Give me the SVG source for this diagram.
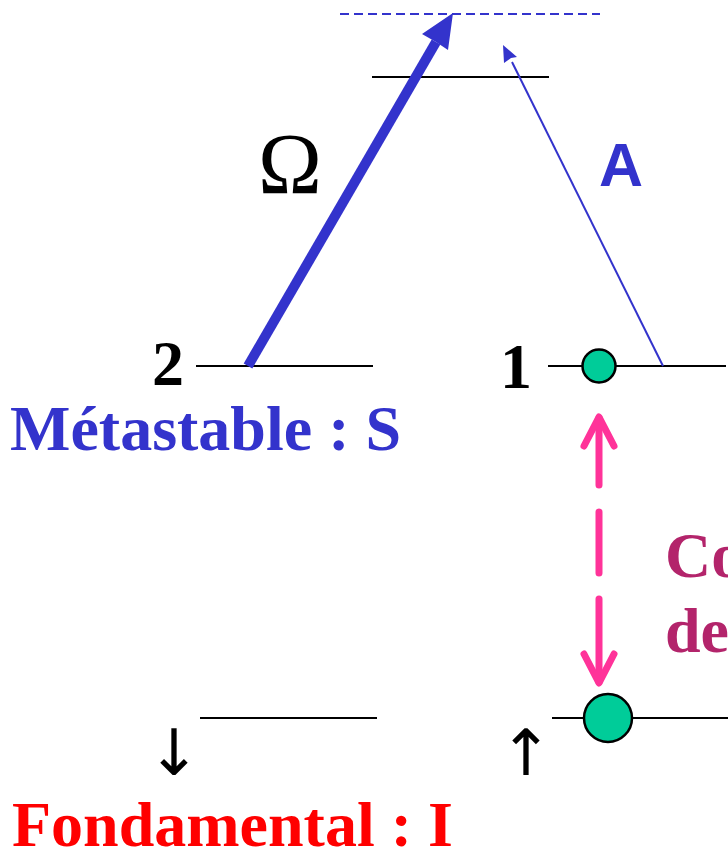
<svg xmlns="http://www.w3.org/2000/svg" width="728" height="854" viewBox="0 0 728 854">
<style>
.lvl{stroke:#000;stroke-width:2.2;fill:none}
.b{fill:#3333CC}
.lbl{font-family:"Liberation Serif",serif;font-weight:bold}
.atom{fill:#00CC99;stroke:#000;stroke-width:2.5}
.pink{stroke:#FF3399;stroke-width:7;fill:none;stroke-linecap:round;stroke-linejoin:round}
.spin{font-family:"DejaVu Sans",sans-serif;font-size:64px;text-anchor:middle}
</style>
<rect width="728" height="854" fill="#fff"/>
<g id="virtual-level"><line x1="340" y1="14" x2="600" y2="14" stroke="#3333CC" stroke-width="2" stroke-dasharray="9,5"/></g>
<g id="excited-level"><line class="lvl" x1="372" y1="77" x2="549" y2="77"/></g>
<g id="level-2"><line class="lvl" x1="196" y1="366" x2="373" y2="366"/><text class="lbl" x="152" y="385" font-size="64">2</text></g>
<g id="level-1"><line class="lvl" x1="548" y1="366" x2="726" y2="366"/><text class="lbl" x="500" y="388" font-size="64">1</text><circle class="atom" cx="599" cy="366" r="16.5"/></g>
<g id="label-S"><text class="lbl" x="10" y="450" font-size="64" fill="#3333CC">Métastable : S</text></g>
<g id="ground-down"><line class="lvl" x1="200" y1="718" x2="377" y2="718"/><text class="spin" x="174" y="775">↓</text></g>
<g id="ground-up"><line class="lvl" x1="552" y1="718" x2="728" y2="718"/><text class="spin" x="526" y="775">↑</text><circle class="atom" cx="608" cy="718" r="24"/></g>
<g id="label-I"><text class="lbl" x="12" y="846" font-size="64" fill="#FF0000">Fondamental : I</text></g>
<g id="label-coll"><text class="lbl" x="665" y="577" font-size="64" fill="#B3246B">Co</text><text class="lbl" x="665" y="652" font-size="64" fill="#B3246B">de</text></g>
<g id="label-omega"><text x="290" y="193" font-family="Liberation Serif,serif" font-size="86" text-anchor="middle">Ω</text></g>
<g id="label-A"><text x="621" y="186" font-family="Liberation Sans,sans-serif" font-weight="bold" font-size="61" fill="#3333CC" text-anchor="middle">A</text></g>
<g id="connectors">
<line x1="248" y1="366" x2="436" y2="42" stroke="#3333CC" stroke-width="10"/>
<polygon class="b" points="453,13 448,50 436,42 422,34"/>
<line x1="663" y1="366" x2="512" y2="62" stroke="#3333CC" stroke-width="2"/>
<polygon class="b" points="503,45 517,57 511,58 504,63"/>
<line class="pink" x1="599" y1="418" x2="599" y2="485" stroke-linecap="butt"/>
<line class="pink" x1="599" y1="512" x2="599" y2="573" stroke-linecap="butt"/>
<line class="pink" x1="599" y1="599" x2="599" y2="682" stroke-linecap="butt"/>
<polyline class="pink" points="584,446 599,417 614,446"/>
<polyline class="pink" points="584,654 599,683 614,654"/>
</g>
</svg>
